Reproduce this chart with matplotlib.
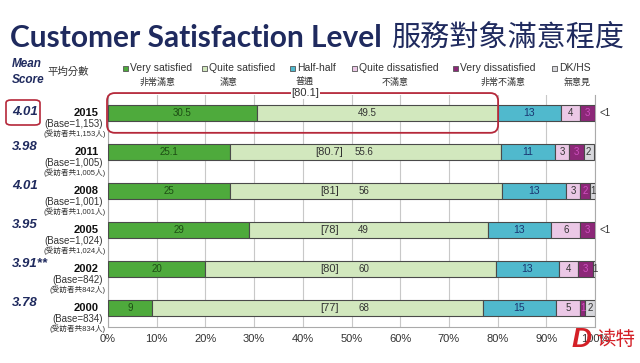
import matplotlib
matplotlib.use("Agg")
import matplotlib.pyplot as plt
from matplotlib.patches import Rectangle, FancyBboxPatch
import numpy as np

plt.rcParams['font.family'] = ['Liberation Sans', 'Noto Sans CJK TC', 'DejaVu Sans']

# data
years = ['2015', '2011', '2008', '2005', '2002', '2000']
bases = ['1,153', '1,005', '1,001', '1,024', '842', '834']
mean_scores = ['4.01', '3.98', '4.01', '3.95', '3.91**', '3.78']
very_sat = [30.5, 25.1, 25, 29, 20, 9]
quite_sat = [49.5, 55.6, 56, 49, 59.6, 68]
quite_sat_lbl = ['49.5', '55.6', '56', '49', '60', '68']
half = [13, 11, 13, 13, 13, 15]
quite_dis = [4, 3, 3, 6, 4, 5]
very_dis = [3, 3, 2, 3, 3, 1]
dk = [0, 2, 1, 0, 1, 2]
dk_lbl = ['<1', '2', '1', '<1', '1', '2']
sat_total = ['80.1', '80.7', '81', '78', '80', '77']

cats_en = ['Very satisfied', 'Quite satisfied', 'Half-half', 'Quite dissatisfied',
           'Very dissatisfied', 'DK/HS']
cats_zh = ['非常滿意', '滿意', '普通', '不滿意', '非常不滿意', '無意見']
colors = ['#4eaa3c', '#d2e8be', '#50b9cd', '#ebc8e6', '#8c2878', '#d7d7dc']

navy = '#1f2a5e'

fig = plt.figure(figsize=(6.4, 3.63), dpi=100)
ax = fig.add_axes([108/640, 1-327/363, 487/640, (327-95)/363])

y = np.arange(len(years))
series = [very_sat, quite_sat, half, quite_dis, very_dis, dk]
left = np.zeros(len(years))
for vals, c in zip(series, colors):
    ax.barh(y, vals, left=left, height=0.41, color=c, edgecolor='#4a4a4a',
            linewidth=0.8, zorder=3)
    left = left + np.array(vals)

ax.set_xlim(0, 100)
ax.set_ylim(5.49, -0.46)
ax.set_xticks(np.arange(0, 101, 10))
ax.set_xticklabels([f'{v}%' for v in range(0, 101, 10)], fontsize=8, color='#333333')
ax.set_yticks([])
ax.tick_params(axis='x', length=0, pad=5)
ax.grid(axis='x', color='#c8c8c8', linewidth=0.8, zorder=0)
ax.spines['top'].set_visible(False)
for s in ['left', 'bottom', 'right']:
    ax.spines[s].set_color('#aaaaaa')
    ax.spines[s].set_linewidth(0.8)

# labels inside bars
for i in range(len(years)):
    ax.text(very_sat[i]/2, i, f'{very_sat[i]:g}', ha='center', va='center',
            fontsize=7, color='#1d4d14', zorder=5)
    x0 = very_sat[i]
    if i == 0:
        ax.text(53.3, i, quite_sat_lbl[i], ha='center', va='center', fontsize=7,
                color='#333333', zorder=5)
    else:
        ax.text(45.5, i, f'[{sat_total[i]}]', ha='center', va='center', fontsize=8,
                color='#333333', zorder=5)
        ax.text(52.5, i, quite_sat_lbl[i], ha='center', va='center', fontsize=7,
                color='#333333', zorder=5)
    x0 += quite_sat[i]
    ax.text(x0 + half[i]/2, i, f'{half[i]:g}', ha='center', va='center', fontsize=7.5,
            color='#1a3570', zorder=5)
    x0 += half[i]
    ax.text(x0 + quite_dis[i]/2, i, f'{quite_dis[i]:g}', ha='center', va='center',
            fontsize=7, color='#333333', zorder=5)
    x0 += quite_dis[i]
    ax.text(x0 + very_dis[i]/2, i, f'{very_dis[i]:g}', ha='center', va='center',
            fontsize=7, color='#d050c0', zorder=5)
    x0 += very_dis[i]
    if dk[i] > 0:
        ax.text(x0 + dk[i]/2, i, dk_lbl[i], ha='center', va='center', fontsize=7,
                color='#333333', zorder=5)
    else:
        ax.text(101, i, dk_lbl[i], ha='left', va='center', fontsize=7,
                color='#333333', clip_on=False)

# red rounded box around the 2015 bar
box = FancyBboxPatch((-0.2, -0.51), 80.3, 1.02,
                     boxstyle='round,pad=0,rounding_size=1.6', mutation_aspect=0.125,
                     fill=False, edgecolor='#b5283a', linewidth=1.3, clip_on=False, zorder=6)
ax.add_patch(box)
ax.text(40.5, -0.51, f'[{sat_total[0]}]', ha='center', va='center', fontsize=8,
        color='#333333', zorder=7, clip_on=False,
        bbox=dict(facecolor='white', edgecolor='none', pad=0.5))

# left side labels (figure pixel coords)
def fx(px):
    return px / 640

def fy(py):
    return 1 - py / 363

bar_px = [113, 152, 191, 230, 269, 308]
for i in range(len(years)):
    yc = bar_px[i]
    sc_y = 112 if i == 0 else yc - 5
    fig.text(fx(12), fy(sc_y), mean_scores[i], ha='left', va='center', fontsize=9.5,
             fontweight='bold', style='italic', color=navy)
    fig.text(fx(99), fy(yc), years[i], ha='right', va='center', fontsize=8,
             fontweight='bold', color='#111111')
    fig.text(fx(103), fy(yc + 11), f'(Base={bases[i]})', ha='right', va='center',
             fontsize=7, color='#333333')
    fig.text(fx(106), fy(yc + 21), f'(受訪者共{bases[i]}人)', ha='right', va='center',
             fontsize=5.5, color='#333333')

fig.add_artist(FancyBboxPatch((fx(6), fy(125)), fx(34), 25/363,
                              boxstyle='round,pad=0,rounding_size=0.008',
                              transform=fig.transFigure, fill=False,
                              edgecolor='#b5283a', linewidth=1.2))

# title
fig.text(fx(10), fy(38), 'Customer Satisfaction Level', ha='left', va='center',
         fontsize=21.5, fontweight='bold', color=navy, family=['Lato', 'DejaVu Sans'])
fig.text(fx(392), fy(38), '服務對象滿意程度', ha='left', va='center', fontsize=21,
         color=navy, family=['Noto Sans CJK TC'])

fig.text(fx(12), fy(64), 'Mean', ha='left', va='center', fontsize=8.5,
         fontweight='bold', style='italic', color=navy)
fig.text(fx(12), fy(80), 'Score', ha='left', va='center', fontsize=8.5,
         fontweight='bold', style='italic', color=navy)
fig.text(fx(47), fy(72), '平均分數', ha='left', va='center', fontsize=7.5,
         color='#333333', family=['Noto Sans CJK TC'])

# legend
leg_x = [123, 202, 290, 352, 453, 552]
leg_zh_x = [158, 229, 305, 395, 503, 577]
for k in range(len(cats_en)):
    fig.add_artist(Rectangle((fx(leg_x[k]), fy(71)), 5/640, 5/363,
                             transform=fig.transFigure, facecolor=colors[k],
                             edgecolor='#555555', linewidth=0.6))
    fig.text(fx(leg_x[k] + 7), fy(68), cats_en[k], ha='left', va='center',
             fontsize=7.5, color='#333333')
    fig.text(fx(leg_zh_x[k]), fy(82), cats_zh[k], ha='center', va='center',
             fontsize=6.5, color='#333333', family=['Noto Sans CJK TC'])

# logo in the corner
fig.text(fx(572), fy(340), 'D', ha='left', va='center', fontsize=20,
         fontweight='bold', style='italic', color='#d42027')
fig.text(fx(596), fy(339), '读特', ha='left', va='center', fontsize=14,
         color='#d42027', family=['Noto Sans CJK SC'])

fig.savefig('out.png', dpi=100, facecolor='white')
